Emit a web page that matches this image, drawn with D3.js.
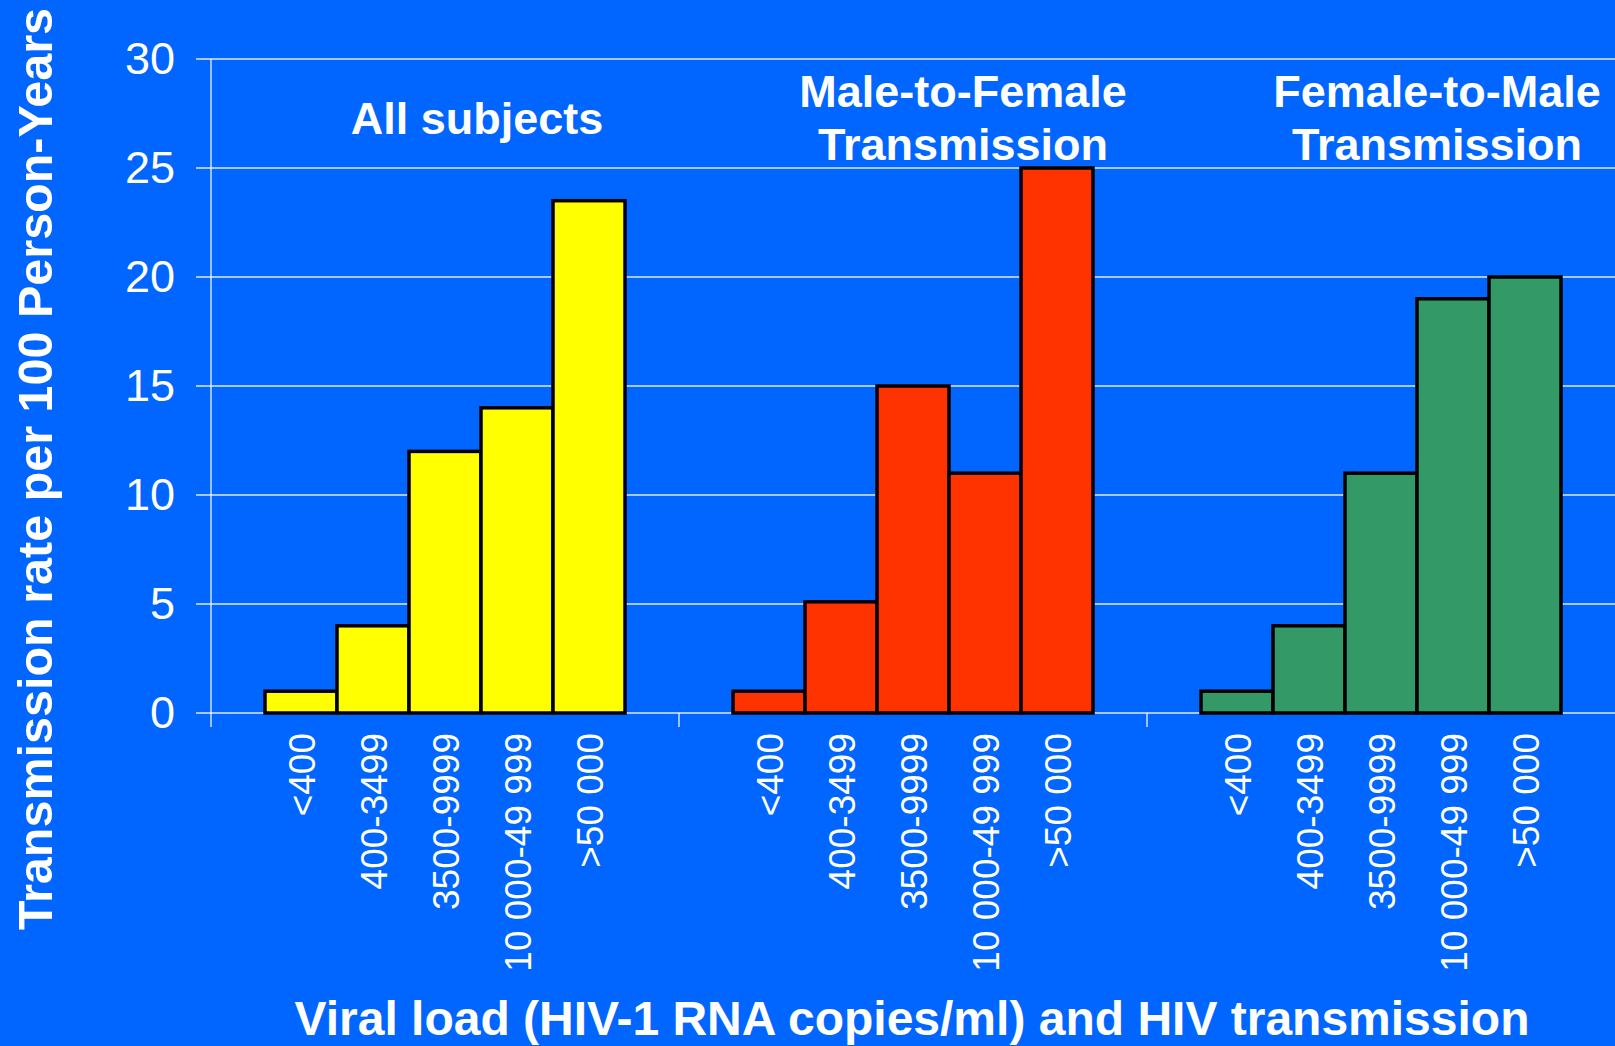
<!DOCTYPE html>
<html>
<head>
<meta charset="utf-8">
<script src="https://cdn.jsdelivr.net/npm/d3@7"></script>
<style>
  html, body { margin: 0; padding: 0; background: #0066ff; }
  svg { display: block; }
  text { font-family: "Liberation Sans", Arial, sans-serif; fill: #ffffff; }
</style>
</head>
<body>
<div id="chart"></div>
<script>
// Chart size
const width = 1615;
const height = 1046;
const margin = { top: 59, right: 0, bottom: 333, left: 211 };

// Data
const groups = ['All subjects', 'Male-to-Female', 'Female-to-Male'];
const groupTitles = [['All subjects'], ['Male-to-Female', 'Transmission'], ['Female-to-Male', 'Transmission']];
const categories = ['<400', '400-3499', '3500-9999', '10 000-49 999', '>50 000'];
const allSubjects = [1, 4, 12, 14, 23.5];
const maleToFemale = [1, 5.1, 15, 11, 25];
const femaleToMale = [1, 4, 11, 19, 20];
const yTicks = [0, 5, 10, 15, 20, 25, 30];
const colors = ['#ffff00', '#ff3300', '#339966'];

const seriesValues = [allSubjects, maleToFemale, femaleToMale];

const svg = d3.select('#chart')
    .append('svg')
    .attr('width', width)
    .attr('height', height);

// Scales
const x0 = d3.scaleBand()
    .domain(groups)
    .range([margin.left, width - margin.right])
    .padding(0);

const x1 = d3.scaleBand()
    .domain(categories)
    .range([0, x0.bandwidth()])
    .paddingInner(0)
    .paddingOuter(0.75);

const y = d3.scaleLinear()
    .domain([0, 30])
    .range([height - margin.bottom, margin.top]);

// Gridlines
svg.append('g')
    .selectAll('line')
    .data(yTicks)
    .join('line')
    .attr('x1', margin.left - 15)
    .attr('x2', width)
    .attr('y1', d => y(d))
    .attr('y2', d => y(d))
    .attr('stroke', '#dfe8ff')
    .attr('stroke-width', 1.3);

// Y axis
const yAxis = d3.axisLeft(y).tickValues(yTicks).tickSize(0).tickPadding(36);
svg.append('g')
    .attr('transform', `translate(${margin.left},0)`)
    .call(yAxis)
    .call(g => g.select('.domain').remove())
    .call(g => g.selectAll('text')
        .attr('font-size', 45)
        .attr('fill', '#fff')
        .attr('font-family', '"Liberation Sans", Arial, sans-serif'));

// axis line, running a little below zero
svg.append('line')
    .attr('x1', margin.left).attr('x2', margin.left)
    .attr('y1', y(30)).attr('y2', y(0) + 14)
    .attr('stroke', '#eef3ff').attr('stroke-width', 1.3);

// group divider ticks
svg.append('g')
    .selectAll('line')
    .data(groups.slice(1))
    .join('line')
    .attr('x1', d => x0(d)).attr('x2', d => x0(d))
    .attr('y1', y(0)).attr('y2', y(0) + 14)
    .attr('stroke', '#eef3ff').attr('stroke-width', 1.3);

// Bars
const groupG = svg.selectAll('.group')
    .data(groups)
    .join('g')
    .attr('class', 'group')
    .attr('transform', d => `translate(${x0(d)},0)`);

groupG.selectAll('rect')
    .data((g, i) => categories.map((c, j) => ({ cat: c, value: seriesValues[i][j], color: colors[i] })))
    .join('rect')
    .attr('x', d => x1(d.cat))
    .attr('y', d => y(d.value))
    .attr('width', x1.bandwidth())
    .attr('height', d => y(0) - y(d.value))
    .attr('fill', d => d.color)
    .attr('stroke', '#000')
    .attr('stroke-width', 3.5);

// Category labels (rotated)
groupG.selectAll('.cat-label')
    .data(categories)
    .join('text')
    .attr('class', 'cat-label')
    .attr('transform', d => `translate(${x1(d) + x1.bandwidth() / 2 + 1},${y(0) + 20}) rotate(-90)`)
    .attr('text-anchor', 'end')
    .attr('dominant-baseline', 'central')
    .attr('font-size', 37)
    .text(d => d);

// Group titles (sit a bit right of the group centre, as on the slide)
const titleY = [[134], [107, 160], [107, 160]];
const titleShift = [32, 50, 56];
groupG.each(function (g, i) {
    const t = d3.select(this);
    groupTitles[i].forEach((line, k) => {
        t.append('text')
            .attr('x', x0.bandwidth() / 2 + titleShift[i])
            .attr('y', titleY[i][k])
            .attr('text-anchor', 'middle')
            .attr('font-size', 45)
            .attr('font-weight', 'bold')
            .text(line);
    });
});

// Axis titles
svg.append('text')
    .attr('transform', `translate(35,469) rotate(-90)`)
    .attr('text-anchor', 'middle')
    .attr('dominant-baseline', 'central')
    .attr('font-size', 48.5)
    .attr('font-weight', 'bold')
    .text('Transmission rate per 100 Person-Years');

svg.append('text')
    .attr('x', 912)
    .attr('y', 1035)
    .attr('text-anchor', 'middle')
    .attr('font-size', 48)
    .attr('font-weight', 'bold')
    .text('Viral load (HIV-1 RNA copies/ml) and HIV transmission');
</script>
</body>
</html>
